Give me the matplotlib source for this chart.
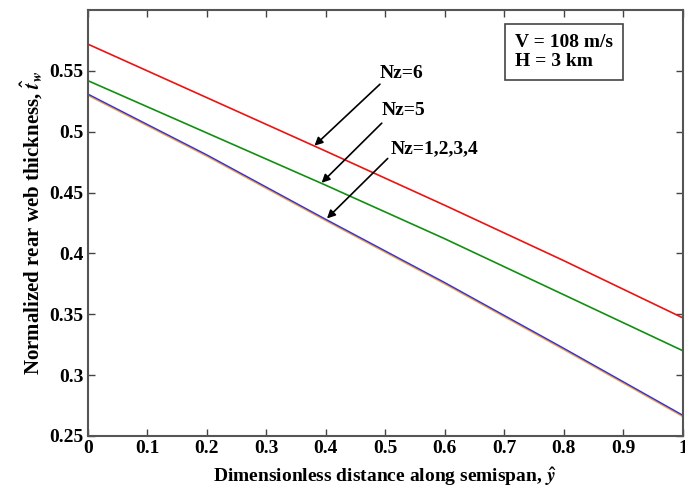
import matplotlib
matplotlib.use("Agg")
import matplotlib.pyplot as plt

# dimensionless distance along semispan
y_hat = [0.0, 0.2, 0.4, 0.6, 0.8, 1.0]

# normalized rear web thickness
tw_nz6 = [0.572, 0.528, 0.484, 0.4395, 0.394, 0.347]
tw_nz5 = [0.542, 0.499, 0.456, 0.412, 0.366, 0.320]
tw_nz1to3 = [0.530, 0.480, 0.427, 0.375, 0.321, 0.266]
tw_nz4 = [0.531, 0.481, 0.428, 0.376, 0.322, 0.267]

plt.rcParams['font.family'] = ['Liberation Serif', 'DejaVu Serif']
plt.rcParams['font.weight'] = 'bold'
plt.rcParams['mathtext.fontset'] = 'stix'

fig = plt.figure(figsize=(6.85, 4.98), dpi=100)
ax = fig.add_axes([0.128, 0.1245, 0.869, 0.8555])

ax.plot(y_hat, tw_nz1to3, color='#f0a040', linewidth=1.2)
ax.plot(y_hat, tw_nz4, color='#3030e0', linewidth=1.0)
ax.plot(y_hat, tw_nz5, color='#109010', linewidth=1.2)
ax.plot(y_hat, tw_nz6, color='#ee1111', linewidth=1.2)

ax.set_xlim(0, 1)
ax.set_ylim(0.25, 0.6)
ax.set_xticks([0, 0.1, 0.2, 0.3, 0.4, 0.5, 0.6, 0.7, 0.8, 0.9, 1])
ax.set_xticklabels(['0', '0.1', '0.2', '0.3', '0.4', '0.5', '0.6', '0.7', '0.8', '0.9', '1'])
ax.set_yticks([0.25, 0.3, 0.35, 0.4, 0.45, 0.5, 0.55])
ax.set_yticklabels(['0.25', '0.3', '0.35', '0.4', '0.45', '0.5', '0.55'])
ax.tick_params(direction='in', top=True, right=True, length=5, width=1,
               labelsize=14, color='#444444', pad=3)
for s in ax.spines.values():
    s.set_color('#555555')
    s.set_linewidth(1.5)

ax.set_xlabel(r'Dimensionless distance along semispan, $\hat{y}$', fontsize=14,
              fontweight='bold', labelpad=6)
ax.set_ylabel(r'Normalized rear web thickness, $\hat{t}_w$', fontsize=15,
              fontweight='bold', labelpad=4)

arrow = dict(arrowstyle='-|>', color='black', lw=1.2, mutation_scale=12, shrinkA=0, shrinkB=0)
ax.annotate('', xy=(0.381, 0.4885), xytext=(0.491, 0.539), arrowprops=arrow)
ax.text(0.528, 0.548, 'Nz=6', fontsize=14, ha='center', va='center', fontweight='bold')
ax.annotate('', xy=(0.393, 0.458), xytext=(0.494, 0.507), arrowprops=arrow)
ax.text(0.531, 0.517, 'Nz=5', fontsize=14, ha='center', va='center', fontweight='bold')
ax.annotate('', xy=(0.402, 0.4287), xytext=(0.504, 0.478), arrowprops=arrow)
ax.text(0.583, 0.486, 'Nz=1,2,3,4', fontsize=14, ha='center', va='center', fontweight='bold')

ax.text(0.718, 0.5655, 'V = 108 m/s\nH = 3 km', fontsize=14, ha='left', va='center',
        fontweight='bold', linespacing=1.15,
        bbox=dict(boxstyle='square,pad=0.5', facecolor='white', edgecolor='#444444', linewidth=1.2))

fig.savefig('out.png', dpi=100)
